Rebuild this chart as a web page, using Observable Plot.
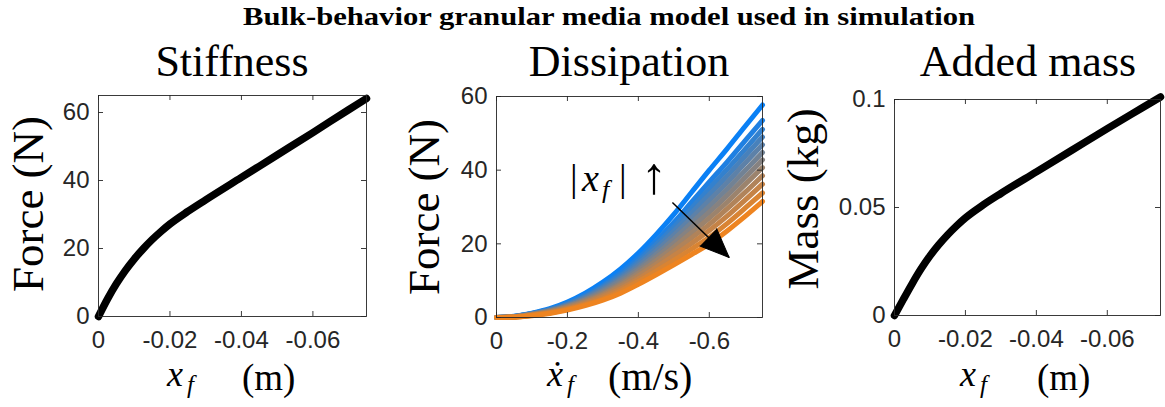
<!DOCTYPE html>
<html><head><meta charset="utf-8">
<script src="https://cdn.jsdelivr.net/npm/d3@7"></script>
<script src="https://cdn.jsdelivr.net/npm/@observablehq/plot@0.6"></script>
<style>
body{margin:0;background:#fff;}
#fig{position:relative;width:1165px;height:407px;overflow:hidden;background:#fff;}
#fig > svg{position:absolute;top:0;}
</style></head><body><div id="fig"></div>
<script>
// ---------- data ----------
const figureTitle = "Bulk-behavior granular media model used in simulation";
const panelTitles = ["Stiffness", "Dissipation", "Added mass"];

// intrusion depth x_f (m)
const depth = [0, -0.0025, -0.005, -0.0075, -0.01, -0.0125, -0.015, -0.0175, -0.02, -0.025, -0.03, -0.04, -0.05, -0.06, -0.07, -0.075];
// stiffness force (N)
const stiffnessForce = [0, 5.1, 9.6, 13.5, 16.9, 19.9, 22.6, 25.0, 27.2, 30.9, 34.3, 40.9, 47.5, 54.1, 60.8, 64.1];
// added mass (kg)
const addedMass = [0, 0.0075, 0.0148, 0.0216, 0.0276, 0.0328, 0.0374, 0.0415, 0.0452, 0.0512, 0.0565, 0.0665, 0.0765, 0.0865, 0.0963, 0.1012];

// intrusion velocity (m/s)
const velocity = [0, -0.05, -0.1, -0.15, -0.2, -0.25, -0.3, -0.35, -0.4, -0.45, -0.5, -0.55, -0.6, -0.65, -0.7, -0.75];
// dissipation force (N), one row per |x_f| level (small |x_f| first)
const dissipationForce = [
  [0, 0.35, 1.2, 2.4, 4.2, 6.6, 9.6, 13.2, 17.5, 22.5, 28.0, 34.0, 40.0, 45.8, 51.8, 57.7],
  [0, 0.3, 1.1, 2.2, 3.9, 6.1, 8.8, 12.1, 16.1, 20.8, 25.8, 31.3, 36.8, 42.2, 47.9, 53.5],
  [0, 0.3, 1.0, 2.1, 3.6, 5.7, 8.4, 11.5, 15.4, 19.8, 24.6, 29.7, 35.0, 40.2, 45.6, 51.1],
  [0, 0.3, 1.0, 2.0, 3.5, 5.5, 8.0, 11.0, 14.7, 18.9, 23.5, 28.4, 33.4, 38.4, 43.7, 49.0],
  [0, 0.2, 0.9, 1.9, 3.3, 5.2, 7.6, 10.5, 14.0, 18.0, 22.4, 27.0, 31.8, 36.6, 41.8, 46.9],
  [0, 0.2, 0.9, 1.8, 3.1, 4.9, 7.2, 10.0, 13.3, 17.1, 21.3, 25.7, 30.2, 34.8, 39.8, 44.8],
  [0, 0.2, 0.8, 1.7, 3.0, 4.7, 6.8, 9.4, 12.7, 16.3, 20.2, 24.4, 28.6, 33.1, 37.9, 42.8],
  [0, 0.2, 0.8, 1.6, 2.8, 4.4, 6.4, 8.9, 12.0, 15.4, 19.1, 23.0, 27.0, 31.3, 36.0, 40.7],
  [0, 0.2, 0.7, 1.5, 2.6, 4.1, 6.0, 8.4, 11.3, 14.5, 18.0, 21.6, 25.3, 29.5, 33.9, 38.5],
  [0, 0.1, 0.6, 1.3, 2.4, 3.8, 5.6, 7.8, 10.5, 13.6, 16.8, 20.1, 23.6, 27.5, 31.8, 36.2],
  [0, 0.1, 0.6, 1.2, 2.2, 3.5, 5.1, 7.2, 9.8, 12.6, 15.5, 18.6, 21.8, 25.5, 29.6, 33.8],
  [0, 0.1, 0.5, 1.1, 2.0, 3.2, 4.7, 6.6, 9.0, 11.6, 14.3, 17.1, 20.0, 23.5, 27.4, 31.5]
];
const colorLowDepth = "#0a80f5";
const colorHighDepth = "#ee8420";

// ticks
const depthTicks = [0, -0.02, -0.04, -0.06];
const velocityTicks = [0, -0.2, -0.4, -0.6];
const forceTicksStiff = [0, 20, 40, 60];
const forceTicksDiss = [0, 20, 40, 60];
const massTicks = [0, 0.05, 0.1];

// annotation arrow (data coordinates of the dissipation panel)
const annotArrow = [{v1: -0.496, f1: 31.2, v2: -0.656, f2: 16.3}];

// ---------- helpers ----------
const fmt = d => d === 0 ? "0" : String(d);
const tickColor = "#262626";
const serif = '"Liberation Serif", "Times New Roman", serif';

function panel(o) {
  const H = 407;
  const ph = H - o.mt - o.mb, pw = o.width - o.ml - o.mr;
  const tk = 5;
  const svg = Plot.plot({
    width: o.width, height: H,
    marginLeft: o.ml, marginRight: o.mr, marginTop: o.mt, marginBottom: o.mb,
    style: {fontFamily: '"Liberation Sans", Arial, sans-serif', fontSize: "24px", background: "transparent", overflow: "visible", color: tickColor},
    x: {domain: o.xDomain},
    y: {domain: o.yDomain},
    color: o.color,
    marks: [
      Plot.axisX({ticks: o.xTicks, tickSize: 0, tickPadding: 14, tickFormat: fmt, label: null, fill: tickColor}),
      Plot.axisY({ticks: o.yTicks, tickSize: 0, tickPadding: 9, tickFormat: fmt, label: null, fill: tickColor}),
      ...o.marks,
      Plot.frame({stroke: tickColor, strokeWidth: 0.9}),
      Plot.tickX(o.xTicks, {x: d => d, insetTop: ph - tk, stroke: tickColor, strokeWidth: 0.9}),
      Plot.tickX(o.xTicks, {x: d => d, insetBottom: ph - tk, stroke: tickColor, strokeWidth: 0.9}),
      Plot.tickY(o.yTicks, {y: d => d, insetRight: pw - tk, stroke: tickColor, strokeWidth: 0.9}),
      Plot.tickY(o.yTicks, {y: d => d, insetLeft: pw - tk, stroke: tickColor, strokeWidth: 0.9})
    ]
  });
  svg.style.left = o.left + "px";
  return svg;
}

const fig = document.getElementById("fig");

// Panel 1: stiffness
const stiffData = depth.map((x, i) => ({x, f: stiffnessForce[i]}));
fig.appendChild(panel({
  left: 0, width: 390, ml: 98, mr: 24, mt: 95, mb: 91,
  xDomain: [0, -0.075], yDomain: [0, 65],
  xTicks: depthTicks, yTicks: forceTicksStiff,
  marks: [Plot.line(stiffData, {x: "x", y: "f", stroke: "black", strokeWidth: 7.5, curve: "monotone-x", strokeLinejoin: "round"})]
}));

// Panel 2: dissipation
const dissData = [];
dissipationForce.forEach((row, k) => row.forEach((f, i) => dissData.push({v: velocity[i], f, level: k})));
const headMarks = (typeof Plot.spike === "function")
  ? [Plot.vector(annotArrow, {x: "v2", y: "f2", rotate: 134, length: 29, r: 12, shape: "spike", anchor: "end", fill: "black", stroke: "black", strokeWidth: 1})]
  : [Plot.arrow(annotArrow, {x1: "v1", y1: "f1", x2: "v2", y2: "f2", stroke: "black", strokeWidth: 4, headLength: 24, headAngle: 42})];
fig.appendChild(panel({
  left: 390, width: 390, ml: 106, mr: 18, mt: 96, mb: 90,
  xDomain: [0, -0.75], yDomain: [0, 60],
  xTicks: velocityTicks, yTicks: forceTicksDiss,
  color: {type: "linear", domain: [0, dissipationForce.length - 1], range: [colorLowDepth, colorHighDepth], interpolate: "rgb"},
  marks: [
    Plot.line(dissData, {x: "v", y: "f", z: "level", stroke: "level", strokeWidth: 5, curve: "monotone-x"}),
    Plot.link(annotArrow, {x1: "v1", y1: "f1", x2: "v2", y2: "f2", stroke: "black", strokeWidth: 1.5}),
    ...headMarks
  ]
}));

// Panel 3: added mass
const massData = depth.map((x, i) => ({x, m: addedMass[i]}));
fig.appendChild(panel({
  left: 780, width: 385, ml: 114, mr: 5, mt: 99, mb: 92,
  xDomain: [0, -0.075], yDomain: [0, 0.1],
  xTicks: depthTicks, yTicks: massTicks,
  marks: [Plot.line(massData, {x: "x", y: "m", stroke: "black", strokeWidth: 7.5, curve: "monotone-x", strokeLinejoin: "round"})]
}));

// ---------- text overlay ----------
const ov = d3.select(fig).append("svg")
  .attr("width", 1165).attr("height", 407)
  .style("left", "0px").style("pointer-events", "none")
  .attr("font-family", serif).attr("fill", "black");

ov.append("text").attr("x", 609).attr("y", 25).attr("text-anchor", "middle")
  .attr("font-weight", "bold").attr("font-size", 26)
  .attr("textLength", 732).attr("lengthAdjust", "spacingAndGlyphs")
  .text(figureTitle);

[[232, panelTitles[0]], [629, panelTitles[1]], [1028, panelTitles[2]]].forEach(([x, t]) => {
  ov.append("text").attr("x", x).attr("y", 76).attr("text-anchor", "middle")
    .attr("font-size", 44).text(t);
});

// y labels
[[43, 204, "Force (N)"], [439, 207, "Force (N)"], [818, 199, "Mass (kg)"]].forEach(([x, y, t]) => {
  ov.append("text").attr("transform", `translate(${x},${y}) rotate(-90)`)
    .attr("text-anchor", "middle").attr("font-size", 45).text(t);
});

// x labels
function xLabel(x0, xUnit, dotted, unit, size) {
  const g = ov.append("g");
  g.append("text").attr("x", x0).attr("y", 386).attr("font-size", 36).attr("font-style", "italic")
    .text(dotted ? "x\u0307" : "x");
  g.append("text").attr("x", x0 + 20).attr("y", 393).attr("font-size", 25).attr("font-style", "italic").text("f");
  g.append("text").attr("x", xUnit).attr("y", 390).attr("font-size", size).text(unit);
}
xLabel(167, 242, false, "(m)", 37);
xLabel(547, 608, true, "(m/s)", 40);
xLabel(960, 1037, false, "(m)", 37);

// annotation label |x_f| ↑
{
  const g = ov.append("g").attr("font-size", 38);
  g.append("text").attr("x", 570).attr("y", 191).text("|");
  g.append("text").attr("x", 582).attr("y", 191).attr("font-style", "italic").text("x");
  g.append("text").attr("x", 602).attr("y", 198).attr("font-size", 26).attr("font-style", "italic").text("f");
  g.append("text").attr("x", 619).attr("y", 191).text("|");
  g.append("text").attr("x", 641).attr("y", 193).attr("font-size", 52).text("\u2191");
}
</script></body></html>
